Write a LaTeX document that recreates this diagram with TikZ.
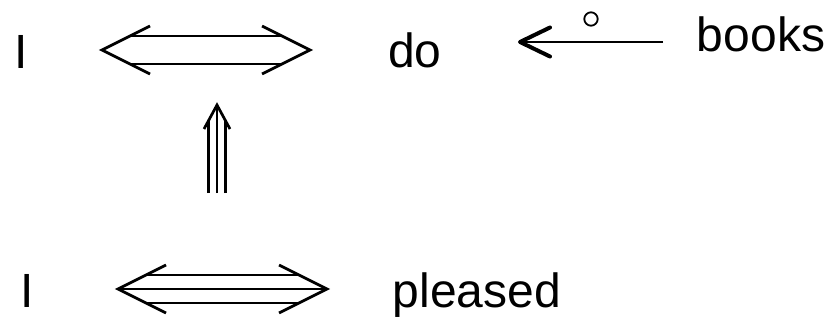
\documentclass[tikz,border=0pt]{standalone}
\usepackage{fontspec}
\setmainfont{Liberation Sans}
\tikzset{
  word/.style={font=\fontsize{48}{54}\selectfont,inner sep=0pt,anchor=base},
  bar/.style={line width=2.7pt},
  head/.style={line width=2.7pt,line join=miter},
  barb/.style={line width=4pt,line cap=round,line join=round},
  ring/.style={draw,circle,line width=1.8pt,inner sep=0pt,minimum size=13.4pt},
}

\begin{document}
\begin{tikzpicture}[x=1pt,y=1pt]
  \useasboundingbox (0,0) rectangle (833,-321);
  \node[word] (I1) at (21.5,-69) {I};
  \node[word] (do) at (415,-68) {do};
  \node[word] (books) at (761,-52) {books};
  \node[word] (I2) at (27,-307) {I};
  \node[word] (pleased) at (477,-307) {pleased};
  \coordinate (tl) at (102,-50);
  \coordinate (tr) at (310,-50);
  \coordinate (bl) at (118,-289);
  \coordinate (br) at (327,-289);
  \coordinate (up) at (217,-105);
  \coordinate (ub) at (217,-193);
  \coordinate (bk) at (520,-42);
  \coordinate (bt) at (663,-42);
  % I <=> do
  \draw[bar] (tl) ++(28,14) -- ([shift={(-28,14)}]tr);
  \draw[bar] (tl) ++(28,-14) -- ([shift={(-28,-14)}]tr);
  \draw[head] (tl) ++(48,24) -- (tl) -- ++(48,-24);
  \draw[head] (tr) ++(-48,24) -- (tr) -- ++(-48,-24);
  % I <=> pleased
  \draw[bar] (bl) ++(28,14) -- ([shift={(-28,14)}]br);
  \draw[bar] (bl) -- (br);
  \draw[bar] (bl) ++(28,-14) -- ([shift={(-28,-14)}]br);
  \draw[head] (bl) ++(48,24) -- (bl) -- ++(48,-24);
  \draw[head] (br) ++(-48,24) -- (br) -- ++(-48,-24);
  % triple arrow up
  \draw[bar] (ub) ++(-8.5,0) -- ([shift={(-8.5,-15.7)}]up);
  \draw[bar] (ub) -- (up);
  \draw[bar] (ub) ++(8.5,0) -- ([shift={(8.5,-15.7)}]up);
  \draw[head] (up) ++(-13,-24) -- (up) -- ++(13,-24);
  % books -> do
  \draw[bar] (bt) -- (bk);
  \draw[barb] (bk) ++(30,14.5) -- (bk) -- ++(30,-14.5);
  \node[ring] (o) at (591,-19) {};
\end{tikzpicture}
\end{document}
